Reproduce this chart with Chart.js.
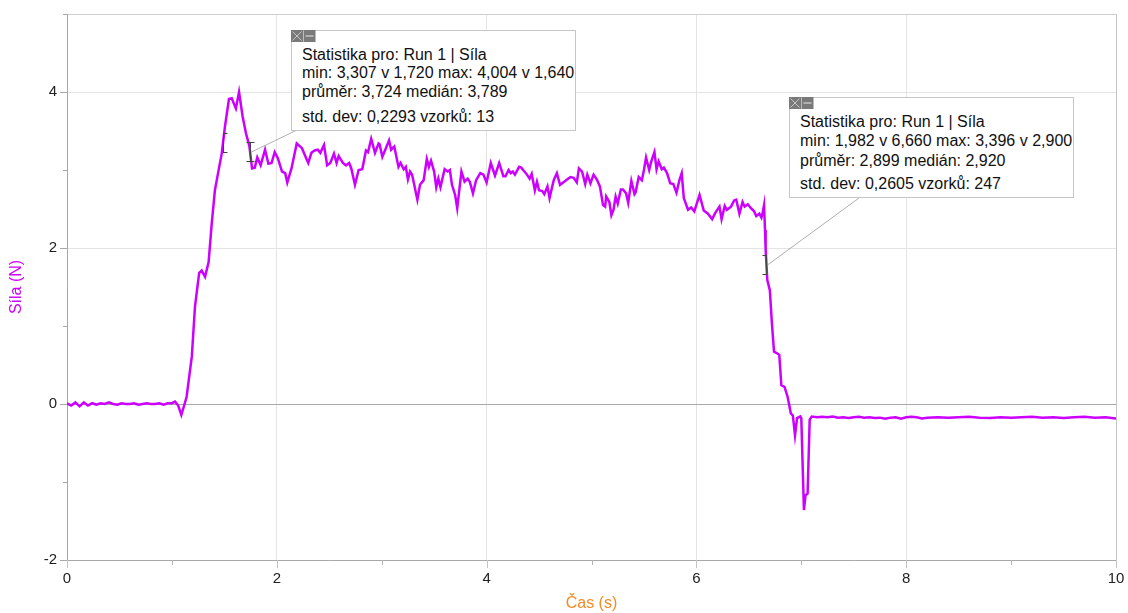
<!DOCTYPE html>
<html lang="cs">
<head>
<meta charset="utf-8">
<title>Síla – Run 1</title>
<script src="https://cdn.jsdelivr.net/npm/chart.js@4.4.1/dist/chart.umd.min.js"></script>
<style>
  html, body { margin: 0; padding: 0; background: #fff; }
  #wrap { position: relative; width: 1128px; height: 613px; overflow: hidden;
          font-family: "Liberation Sans", Arial, sans-serif; }
  #graf { position: absolute; left: 0; top: 0; }
  .stat { position: absolute; background: #fff; border: 1px solid #c6c6c6; box-sizing: border-box;
          width: 285px; height: 101px; color: #111; font-size: 16px; }
  .stat .ln { position: absolute; left: 10px; line-height: 18px; white-space: nowrap; }
  .stat svg { position: absolute; left: -1px; top: -1px; }
</style>
</head>
<body>
<div id="wrap">
  <canvas id="graf" width="1128" height="613"></canvas>

  <div class="stat" style="left:291px;top:30px;">
    <svg width="25" height="12" viewBox="0 0 25 12">
      <rect x="0" y="0" width="12" height="12" fill="#7a7a7a"/>
      <path d="M1.5 1.5 L10.5 10.5 M10.5 1.5 L1.5 10.5" stroke="#c4c4c4" stroke-width="1"/>
      <rect x="12.5" y="0" width="12" height="12" fill="#7a7a7a"/>
      <path d="M14.5 6 L22.5 6" stroke="#c4c4c4" stroke-width="1.5"/>
    </svg>
    <div class="ln" style="top:15px;">Statistika pro: Run 1 | Síla</div>
    <div class="ln" style="top:33px;">min: 3,307 v 1,720 max: 4,004 v 1,640</div>
    <div class="ln" style="top:52px;">průměr: 3,724 medián: 3,789</div>
    <div class="ln" style="top:77px;">std. dev: 0,2293 vzorků: 13</div>
  </div>

  <div class="stat" style="left:789px;top:97px;">
    <svg width="25" height="12" viewBox="0 0 25 12">
      <rect x="0" y="0" width="12" height="12" fill="#7a7a7a"/>
      <path d="M1.5 1.5 L10.5 10.5 M10.5 1.5 L1.5 10.5" stroke="#c4c4c4" stroke-width="1"/>
      <rect x="12.5" y="0" width="12" height="12" fill="#7a7a7a"/>
      <path d="M14.5 6 L22.5 6" stroke="#c4c4c4" stroke-width="1.5"/>
    </svg>
    <div class="ln" style="top:15px;">Statistika pro: Run 1 | Síla</div>
    <div class="ln" style="top:34px;">min: 1,982 v 6,660 max: 3,396 v 2,900</div>
    <div class="ln" style="top:54px;">průměr: 2,899 medián: 2,920</div>
    <div class="ln" style="top:77px;">std. dev: 0,2605 vzorků: 247</div>
  </div>
</div>

<script>
// Run 1: síla (N) v čase (s), po úsecích jako dvojice [t, F]
const klidPred = [
  [0.00, 0.01], [0.04, -0.02], [0.08, 0.02], [0.12, -0.03], [0.16, 0.02], [0.20, -0.02],
  [0.24, 0.01], [0.28, -0.01], [0.32, 0.01], [0.36, 0.00], [0.40, 0.02], [0.44, 0.00],
  [0.48, -0.01], [0.52, 0.01], [0.56, 0.00], [0.60, 0.00], [0.64, 0.01], [0.68, -0.01],
  [0.72, 0.00], [0.76, 0.01], [0.80, 0.00], [0.84, 0.00], [0.88, 0.01], [0.92, -0.01],
  [0.96, 0.01], [1.00, 0.01]
];

const nabeh = [
  [1.03, 0.03], [1.06, -0.02], [1.09, -0.14], [1.11, -0.05], [1.14, 0.09], [1.19, 0.61],
  [1.22, 1.25], [1.26, 1.68], [1.284, 1.71], [1.316, 1.63], [1.35, 1.82], [1.38, 2.32],
  [1.41, 2.74], [1.44, 2.96], [1.475, 3.21], [1.506, 3.56], [1.544, 3.91], [1.57, 3.92],
  [1.61, 3.79], [1.64, 4.00], [1.675, 3.68], [1.706, 3.47], [1.738, 3.31], [1.764, 3.02],
  [1.79, 3.03], [1.814, 3.16], [1.846, 3.06], [1.888, 3.26], [1.92, 3.08], [1.95, 3.09],
  [1.98, 3.23]
];

const drzeni = [
  [2.01, 3.15], [2.05, 2.98], [2.08, 2.96], [2.10, 2.84], [2.14, 3.02], [2.19, 3.34],
  [2.24, 3.28], [2.28, 3.15], [2.30, 3.09], [2.33, 3.22], [2.36, 3.25], [2.39, 3.26],
  [2.415, 3.22], [2.45, 3.32], [2.48, 3.06], [2.51, 3.09], [2.545, 3.21], [2.57, 3.09],
  [2.59, 3.18], [2.63, 3.09], [2.66, 3.06], [2.69, 3.09], [2.71, 3.02], [2.745, 2.81],
  [2.78, 3.00], [2.815, 3.01], [2.85, 3.25], [2.87, 3.23], [2.90, 3.40], [2.936, 3.22],
  [2.97, 3.34], [2.98, 3.33], [3.006, 3.17], [3.04, 3.28], [3.07, 3.38], [3.09, 3.26],
  [3.12, 3.30], [3.16, 3.04], [3.18, 3.09], [3.21, 3.01], [3.23, 3.04], [3.25, 2.88],
  [3.27, 2.98], [3.29, 2.94], [3.34, 2.62], [3.365, 2.81], [3.40, 2.87], [3.43, 3.14],
  [3.45, 3.04], [3.47, 3.12], [3.50, 2.98], [3.52, 2.78], [3.54, 2.89], [3.56, 2.78],
  [3.60, 3.01], [3.63, 2.98], [3.65, 3.00], [3.67, 2.81], [3.70, 2.68], [3.72, 2.51],
  [3.76, 2.98], [3.79, 2.85], [3.82, 2.89], [3.84, 2.85], [3.87, 2.70], [3.90, 2.87],
  [3.94, 2.96], [3.97, 2.94], [4.00, 2.84], [4.04, 3.09], [4.08, 2.93], [4.12, 3.09],
  [4.16, 2.92], [4.18, 2.92], [4.21, 3.00], [4.23, 2.96], [4.25, 2.98], [4.27, 2.94],
  [4.31, 3.04], [4.33, 3.03], [4.36, 2.98], [4.38, 2.95], [4.41, 2.89], [4.43, 2.95],
  [4.46, 2.74], [4.48, 2.85], [4.50, 2.74], [4.53, 2.73], [4.55, 2.69], [4.58, 2.79],
  [4.60, 2.64], [4.64, 2.87], [4.67, 2.96], [4.70, 2.81], [4.74, 2.85], [4.77, 2.88],
  [4.80, 2.91], [4.83, 2.90], [4.86, 2.84], [4.88, 3.02], [4.91, 2.98], [4.94, 2.82],
  [4.96, 2.94], [4.99, 2.83], [5.02, 2.94], [5.05, 2.88], [5.08, 2.79], [5.11, 2.55],
  [5.13, 2.53], [5.14, 2.66], [5.17, 2.59], [5.19, 2.42], [5.21, 2.49], [5.23, 2.66],
  [5.25, 2.57], [5.28, 2.75], [5.30, 2.75], [5.33, 2.70], [5.35, 2.58], [5.38, 2.86],
  [5.41, 2.69], [5.42, 2.71], [5.45, 2.91], [5.48, 2.87], [5.50, 3.00], [5.52, 3.16],
  [5.55, 3.00], [5.57, 3.11], [5.60, 3.23], [5.62, 3.01], [5.64, 3.11], [5.67, 3.01],
  [5.69, 3.03], [5.72, 2.96], [5.75, 2.83], [5.78, 2.82], [5.81, 2.71], [5.84, 2.88],
  [5.86, 2.96], [5.88, 2.64], [5.92, 2.49], [5.95, 2.52], [5.98, 2.47], [6.03, 2.68],
  [6.07, 2.48], [6.11, 2.44], [6.15, 2.37], [6.18, 2.45], [6.22, 2.53], [6.24, 2.37],
  [6.27, 2.54], [6.29, 2.49], [6.33, 2.53], [6.36, 2.61], [6.38, 2.62], [6.41, 2.44],
  [6.44, 2.59], [6.46, 2.53], [6.49, 2.56], [6.52, 2.51], [6.55, 2.47], [6.57, 2.41],
  [6.60, 2.44], [6.62, 2.39], [6.63, 2.44], [6.645, 2.55]
];

const pokles = [
  [6.654, 2.23], [6.66, 1.98], [6.676, 1.59], [6.70, 1.46], [6.72, 1.03], [6.74, 0.67],
  [6.77, 0.65], [6.79, 0.63], [6.81, 0.24], [6.84, 0.22], [6.87, 0.09], [6.90, -0.12],
  [6.92, -0.15], [6.94, -0.40], [6.96, -0.18], [6.99, -0.16], [7.00, -0.18], [7.025, -1.36],
  [7.04, -1.17], [7.06, -1.15], [7.08, -0.20], [7.10, -0.16]
];

const klidPo = [
  [7.15, -0.17], [7.20, -0.165], [7.25, -0.17], [7.30, -0.16], [7.35, -0.175], [7.40, -0.17],
  [7.45, -0.18], [7.50, -0.17], [7.55, -0.165], [7.60, -0.175], [7.65, -0.17], [7.70, -0.18],
  [7.75, -0.175], [7.80, -0.19], [7.85, -0.175], [7.90, -0.17], [7.95, -0.19], [8.00, -0.17],
  [8.05, -0.165], [8.10, -0.17], [8.15, -0.185], [8.20, -0.175], [8.30, -0.17], [8.40, -0.175],
  [8.50, -0.17], [8.60, -0.165], [8.70, -0.175], [8.80, -0.18], [8.90, -0.17], [9.00, -0.175],
  [9.10, -0.17], [9.20, -0.165], [9.30, -0.175], [9.40, -0.17], [9.50, -0.18], [9.60, -0.17],
  [9.70, -0.165], [9.80, -0.175], [9.90, -0.17], [10.00, -0.185]
];

// hranice oblastí statistiky (s)
const oblastiStatistiky = [[1.487, 1.745], [1.745, 6.668]];

const barvaSily = 'rgb(204, 0, 255)';
const barvaCasu = 'rgb(240, 140, 40)';

const body = [].concat(klidPred, nabeh, drzeni, pokles, klidPo).map(([t, F]) => ({ x: t, y: F }));

function silaV(t) {
  for (let i = 1; i < body.length; i++) {
    if (body[i].x >= t) {
      const a = body[i - 1], b = body[i];
      return a.y + (b.y - a.y) * (t - a.x) / (b.x - a.x);
    }
  }
  return body[body.length - 1].y;
}

// krátké značky na osách (sudé delší, liché kratší)
const znackyOs = {
  id: 'znackyOs',
  afterDraw(chart) {
    const { ctx, chartArea: ca, scales: { x, y } } = chart;
    ctx.save();
    ctx.lineWidth = 1;
    for (let v = 0; v <= 10; v++) {
      const px = Math.round(x.getPixelForValue(v)) + 0.5;
      ctx.strokeStyle = v % 2 === 0 ? '#c4c4c4' : '#b4b4b4';
      ctx.beginPath();
      ctx.moveTo(px, ca.bottom);
      ctx.lineTo(px, ca.bottom + (v % 2 === 0 ? 8 : 5));
      ctx.stroke();
    }
    for (let v = -2; v <= 5; v++) {
      const py = Math.round(y.getPixelForValue(v)) + 0.5;
      ctx.strokeStyle = '#a8a8a8';
      ctx.beginPath();
      ctx.moveTo(ca.left, py);
      ctx.lineTo(ca.left - (v % 2 === 0 ? 7 : 4), py);
      ctx.stroke();
    }
    ctx.restore();
  }
};

// závorky oblastí statistiky a vodicí čáry k popiskům
const cilePopisku = [[297, 130], [859, 198]];
const zavorky = {
  id: 'zavorky',
  afterDatasetsDraw(chart) {
    const { ctx, scales: { x, y } } = chart;
    ctx.save();
    const zavorka = (t, doprava, doleva) => {
      const px = Math.round(x.getPixelForValue(t)) + 0.5;
      const py = Math.round(y.getPixelForValue(silaV(t)));
      ctx.strokeStyle = '#444';
      ctx.lineWidth = 1;
      ctx.beginPath();
      ctx.moveTo(px, py - 10); ctx.lineTo(px, py + 10);
      if (doprava) { ctx.moveTo(px, py - 9.5); ctx.lineTo(px + 4, py - 9.5); ctx.moveTo(px, py + 9.5); ctx.lineTo(px + 4, py + 9.5); }
      if (doleva) { ctx.moveTo(px, py - 9.5); ctx.lineTo(px - 4, py - 9.5); ctx.moveTo(px, py + 9.5); ctx.lineTo(px - 4, py + 9.5); }
      ctx.stroke();
      return [px, py];
    };
    oblastiStatistiky.forEach(([od, po], i) => {
      zavorka(od, true, false);
      const [ex, ey] = zavorka(po, false, true);
      ctx.strokeStyle = '#9a9a9a';
      ctx.lineWidth = 0.8;
      ctx.beginPath();
      ctx.moveTo(ex + 1, ey);
      ctx.lineTo(cilePopisku[i][0], cilePopisku[i][1]);
      ctx.stroke();
    });
    ctx.restore();
  }
};

const pismo = { family: '"Liberation Sans", Arial, sans-serif', size: 15 };

new Chart(document.getElementById('graf'), {
  type: 'line',
  data: {
    datasets: [{
      label: 'Síla',
      data: body,
      borderColor: barvaSily,
      borderWidth: 2.5,
      pointRadius: 0,
      tension: 0,
      fill: false
    }]
  },
  options: {
    responsive: false,
    animation: false,
    devicePixelRatio: 1,
    layout: { padding: { top: 14, right: 12, left: 0, bottom: 0 } },
    plugins: { legend: { display: false }, tooltip: { enabled: false } },
    scales: {
      x: {
        type: 'linear', min: 0, max: 10,
        afterFit(s) { s.height = 53; s.paddingLeft = 0; s.paddingRight = 0; },
        border: { color: '#a8a8a8', width: 1 },
        grid: {
          drawTicks: false,
          color: c => c.tick.value === 10 ? '#c4c4c4' : (c.tick.value % 2 ? 'rgba(0,0,0,0)' : '#e4e4e4')
        },
        ticks: {
          stepSize: 1, autoSkip: false, padding: 10, color: '#222', font: pismo,
          maxRotation: 0,
          callback: v => (v % 2 === 0 ? String(v) : '')
        },
        title: {
          display: true, text: 'Čas (s)', color: barvaCasu,
          font: { family: pismo.family, size: 16 }, padding: { top: 0, bottom: 0 }
        }
      },
      y: {
        type: 'linear', min: -2, max: 5,
        afterFit(s) { s.width = 67; s.paddingTop = 0; s.paddingBottom = 0; },
        border: { color: '#a8a8a8', width: 1 },
        grid: {
          drawTicks: false,
          color: c => {
            const v = c.tick.value;
            if (v === 0) return '#a8a8a8';
            if (v === 5) return '#cfcfcf';
            return v % 2 ? 'rgba(0,0,0,0)' : '#e4e4e4';
          }
        },
        ticks: {
          stepSize: 1, autoSkip: false, padding: 10, color: '#222', font: pismo,
          callback: v => (v % 2 === 0 ? String(v) : '')
        },
        title: {
          display: true, text: 'Síla (N)', color: barvaSily,
          font: { family: pismo.family, size: 16 }, padding: { top: 7, bottom: 0 }
        }
      }
    }
  },
  plugins: [znackyOs, zavorky]
});
</script>
</body>
</html>
